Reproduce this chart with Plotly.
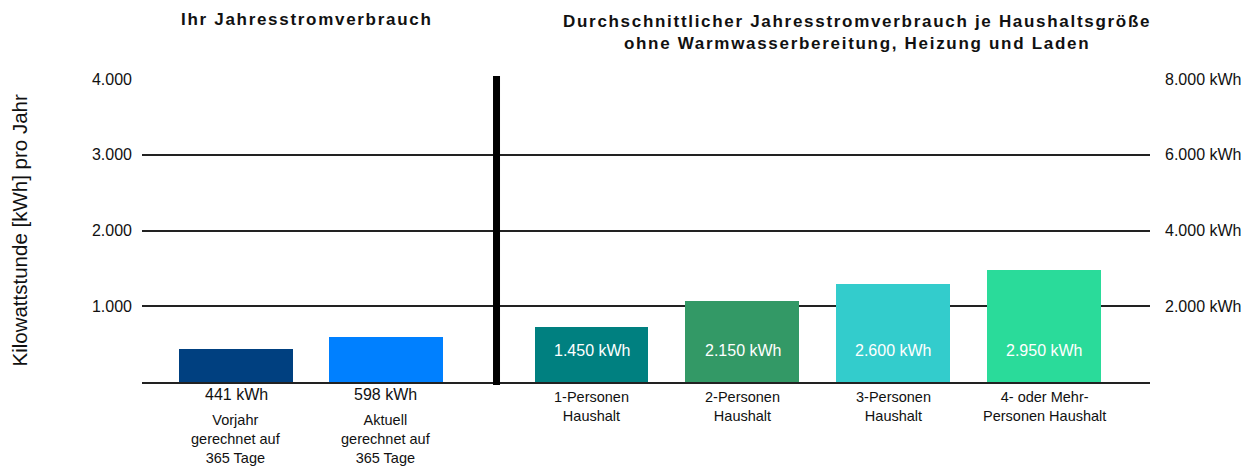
import plotly.graph_objects as go

# ---- data ----
own_categories = ["Vorjahr<br>gerechnet auf<br>365 Tage", "Aktuell<br>gerechnet auf<br>365 Tage"]
own_values = [441, 598]
own_colors = ["#004080", "#0080FF"]

avg_categories = ["1-Personen<br>Haushalt", "2-Personen<br>Haushalt",
                  "3-Personen<br>Haushalt", "4- oder Mehr-<br>Personen Haushalt"]
avg_values = [1450, 2150, 2600, 2950]
avg_colors = ["#008080", "#339966", "#33CCCC", "#2ADB9A"]

left_tickvals = [0, 1000, 2000, 3000, 4000]
left_ticktext = ["", "1.000", "2.000", "3.000", "4.000"]
right_tickvals = [0, 2000, 4000, 6000, 8000]
right_ticktext = ["", "2.000 kWh", "4.000 kWh", "6.000 kWh", "8.000 kWh"]

title_left = "Ihr Jahresstromverbrauch"
title_right_lines = ["Durchschnittlicher Jahresstromverbrauch je Haushaltsgröße",
                     "ohne Warmwasserbereitung, Heizung und Laden"]
y_title = "Kilowattstunde [kWh] pro Jahr"


def de(v):
    return f"{v:,}".replace(",", ".")


def spaced(s):
    return f"<span style='letter-spacing:1.7px'>{s}</span>"


REG = "Liberation Sans, Arial, sans-serif"
NARROW = "Liberation Sans Narrow, Arial Narrow, Liberation Sans, Arial, sans-serif"
GRID = "#222222"

fig = go.Figure()
fig.add_trace(go.Bar(x=own_categories, y=own_values, marker=dict(color=own_colors, line=dict(width=0)),
                     width=0.76, xaxis="x", yaxis="y", hoverinfo="skip", showlegend=False))
fig.add_trace(go.Bar(x=avg_categories, y=avg_values, marker=dict(color=avg_colors, line=dict(width=0)),
                     width=0.755, xaxis="x2", yaxis="y2", hoverinfo="skip", showlegend=False))

annotations = []
for c, v in zip(own_categories, own_values):
    annotations.append(dict(x=c, y=0, xref="x", yref="y", yanchor="middle", yshift=-12,
                            text=f"{de(v)} kWh", showarrow=False,
                            font=dict(family=REG, size=16, color="#111")))
    annotations.append(dict(x=c, y=0, xref="x", yref="y", yanchor="top", yshift=-28,
                            text=c, showarrow=False,
                            font=dict(family=NARROW, size=14.5, color="#111")))
for c, v in zip(avg_categories, avg_values):
    annotations.append(dict(x=c, y=0, xref="x2", yref="y2", yanchor="middle", yshift=32,
                            text=f"{de(v)} kWh", showarrow=False,
                            font=dict(family=REG, size=16, color="white")))
    annotations.append(dict(x=c, y=0, xref="x2", yref="y2", yanchor="top", yshift=-5,
                            text=c, showarrow=False,
                            font=dict(family=NARROW, size=14.5, color="#111")))

annotations.append(dict(x=0.1637, y=1.195, xref="paper", yref="paper", xanchor="center", yanchor="middle",
                        text=f"<b>{spaced(title_left)}</b>", showarrow=False,
                        font=dict(family=NARROW, size=17, color="#111")))
annotations.append(dict(x=0.709, y=1.155, xref="paper", yref="paper", xanchor="center", yanchor="middle",
                        text="<b>" + "<br>".join(spaced(s) for s in title_right_lines) + "</b>",
                        showarrow=False,
                        font=dict(family=NARROW, size=17, color="#111")))
annotations.append(dict(x=-0.122, y=0.5, xref="paper", yref="paper", xanchor="center", yanchor="middle",
                        text=y_title, textangle=-90, showarrow=False,
                        font=dict(family=REG, size=20.5, color="#111")))

fig.update_layout(
    width=1244, height=460,
    margin=dict(l=134, r=102, t=71, b=86),
    paper_bgcolor="white", plot_bgcolor="white",
    bargap=0,
    xaxis=dict(domain=[0, 0.3502], range=[-0.627, 1.727], anchor="y", showticklabels=False,
               showgrid=False, zeroline=False, showline=True, linecolor=GRID, linewidth=1.5, ticks=""),
    xaxis2=dict(domain=[0.3552, 1], range=[-0.606, 3.699], anchor="y2", showticklabels=False,
                showgrid=False, zeroline=False, showline=True, linecolor=GRID, linewidth=1.5, ticks=""),
    yaxis=dict(range=[0, 4000], anchor="x", tickvals=left_tickvals, ticktext=left_ticktext,
               showgrid=True, gridcolor=GRID, gridwidth=1.5, zeroline=False, showline=False,
               ticks="", ticklabelstandoff=9, tickfont=dict(family=REG, size=16, color="#111")),
    yaxis2=dict(range=[0, 8000], anchor="x2", side="right", tickvals=right_tickvals, ticktext=right_ticktext,
                showgrid=True, gridcolor=GRID, gridwidth=1.5, zeroline=False, showline=False,
                ticks="", ticklabelstandoff=14, tickfont=dict(family=REG, size=16, color="#111")),
    annotations=annotations,
    shapes=[dict(type="line", xref="paper", yref="paper", x0=0.3517, x1=0.3517, y0=-0.01, y1=1.0099,
                 line=dict(color="black", width=7))],
)

fig.write_html("out.html")
